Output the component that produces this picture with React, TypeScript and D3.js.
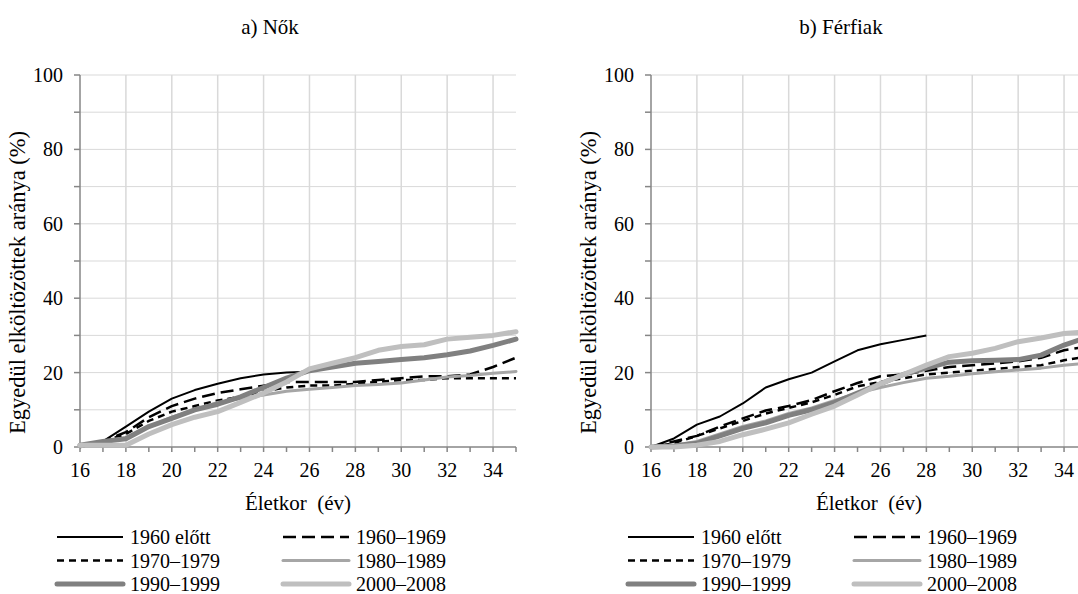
import React from "react";
import * as d3 from "d3";

const ages = [16, 17, 18, 19, 20, 21, 22, 23, 24, 25, 26, 27, 28, 29, 30, 31, 32, 33, 34, 35];
const xTicks = [16, 18, 20, 22, 24, 26, 28, 30, 32, 34];
const yTicks = [0, 20, 40, 60, 80, 100];
const yMinor = [0, 10, 20, 30, 40, 50, 60, 70, 80, 90, 100];
const seriesNames = ["1960 előtt", "1960–1969", "1970–1979", "1980–1989", "1990–1999", "2000–2008"];

// a) Nők
const w1960pre = [0, 1.5, 5.5, 9.5, 13, 15.3, 17, 18.5, 19.5, 20, 20.2];
const w1960s = [0, 1.5, 4, 8, 11, 13, 14.5, 15.5, 16.5, 17.5, 17.5, 17.5, 17.5, 18, 18.5, 19, 19, 19.5, 21.5, 24];
const w1970s = [0, 1.5, 3.5, 7, 9.5, 11, 12.5, 13.5, 15, 16, 16.5, 16.5, 17, 17.5, 18, 18, 18.5, 18.5, 18.5, 18.5];
const w1980s = [0, 1.5, 2.5, 5.5, 8, 10, 12, 13, 14, 15, 15.5, 16, 16.5, 16.8, 17.2, 18, 18.8, 19.2, 19.8, 20.3];
const w1990s = [0.5, 1.5, 2.2, 5.5, 7.7, 10, 11.5, 13.5, 16, 18.5, 20.5, 21.5, 22.5, 23, 23.5, 24, 24.8, 25.8, 27.3, 29];
const w2000s = [0.5, 0.5, 0.5, 3.5, 6, 8, 9.5, 12, 14.5, 17.5, 21, 22.5, 24, 26, 27, 27.5, 29, 29.5, 30, 31];

// b) Férfiak
const m1960pre = [0, 2.3, 6, 8.2, 11.7, 16, 18.2, 20, 23, 26, 27.6, 28.8, 30];
const m1960s = [0, 1.5, 3, 5.5, 7.7, 9.8, 11, 12.6, 15, 17.2, 19, 19.5, 20.5, 21.5, 22, 22.5, 23, 24, 26, 27];
const m1970s = [0, 1, 3, 5, 7, 9, 10.5, 12, 14, 16.3, 17.5, 18.5, 19.5, 20, 20.5, 21, 21.5, 22, 23.3, 24.3];
const m1980s = [0, 0.5, 1.5, 3.5, 5.5, 7, 9, 10.5, 12.5, 14.5, 16, 17.3, 18.5, 19, 19.7, 20.2, 20.7, 21.2, 22, 22.5];
const m1990s = [0, 0.3, 1, 3, 5, 6.5, 8.5, 10, 12, 14.5, 17, 19.5, 21.2, 22.8, 23.2, 23.3, 23.5, 24.7, 27.4, 29.5];
const m2000s = [0, 0, 0.5, 1.5, 3.3, 4.8, 6.5, 8.8, 11, 14, 17, 19.5, 22, 24.3, 25.2, 26.5, 28.3, 29.3, 30.5, 31];

const styles = [
  { stroke: "#000000", width: 2, dash: "", cap: "butt" },
  { stroke: "#000000", width: 2.5, dash: "13,6", cap: "butt" },
  { stroke: "#000000", width: 2.5, dash: "7,5", cap: "butt" },
  { stroke: "#a6a6a6", width: 3, dash: "", cap: "round" },
  { stroke: "#808080", width: 5, dash: "", cap: "round" },
  { stroke: "#bfbfbf", width: 5, dash: "", cap: "round" },
];

const TS: React.CSSProperties = { fontFamily: "Liberation Serif" };

function Panel({ ox, title, data }: { ox: number; title: string; data: number[][] }) {
  const x = d3.scaleLinear().domain([16, 35]).range([ox, ox + 436]);
  const y = d3.scaleLinear().domain([0, 100]).range([447, 75]);
  const line = d3
    .line<number>()
    .x((_, i) => x(ages[i]))
    .y((d) => y(d));
  const axisColor = "#868686";
  const cx = (x(16) + x(35)) / 2;
  return (
    <g>
      <text x={cx - 28} y={34} fontSize={21} textAnchor="middle" style={TS}>
        {title}
      </text>
      {yMinor.slice(1).map((v) => (
        <line key={"gy" + v} x1={x(16)} x2={x(35)} y1={y(v)} y2={y(v)} stroke="#d9d9d9" strokeWidth={1} />
      ))}
      {xTicks.slice(1).map((v) => (
        <line key={"gx" + v} x1={x(v)} x2={x(v)} y1={y(0)} y2={y(100)} stroke="#d9d9d9" strokeWidth={1.5} />
      ))}
      <line x1={x(16)} x2={x(16)} y1={y(0)} y2={y(100)} stroke={axisColor} strokeWidth={1.5} />
      <line x1={x(16)} x2={x(35)} y1={y(0)} y2={y(0)} stroke={axisColor} strokeWidth={1.5} />
      {yMinor.map((v) => (
        <line key={"ty" + v} x1={x(16) - 6} x2={x(16)} y1={y(v)} y2={y(v)} stroke={axisColor} strokeWidth={1.5} />
      ))}
      {ages.map((v) => (
        <line key={"tx" + v} x1={x(v)} x2={x(v)} y1={y(0)} y2={y(0) + 5} stroke={axisColor} strokeWidth={1.5} />
      ))}
      {yTicks.map((v) => (
        <text key={"ly" + v} x={x(16) - 17} y={y(v)} dy="0.35em" fontSize={20} textAnchor="end" style={TS}>
          {v}
        </text>
      ))}
      {xTicks.map((v) => (
        <text key={"lx" + v} x={x(v)} y={477} fontSize={20} textAnchor="middle" style={TS}>
          {v}
        </text>
      ))}
      <text x={cx} y={510} fontSize={21} textAnchor="middle" style={{ ...TS, whiteSpace: "pre" }}>
        {"Életkor  (év)"}
      </text>
      <text transform={`translate(${ox - 55},${282.5}) rotate(-90)`} fontSize={22.5} textAnchor="middle" style={TS}>
        Egyedül elköltözöttek aránya (%)
      </text>
      {data.map((s, i) => (
        <path
          key={"s" + i}
          d={line(s) || ""}
          fill="none"
          stroke={styles[i].stroke}
          strokeWidth={styles[i].width}
          strokeDasharray={styles[i].dash || undefined}
          strokeLinejoin="round"
          strokeLinecap={styles[i].cap as any}
        />
      ))}
      {seriesNames.map((n, i) => {
        const col = i % 2;
        const row = Math.floor(i / 2);
        const lx = ox - 23 + col * 226;
        const ly = 537 + row * 23.5;
        return (
          <g key={"lg" + i}>
            <line
              x1={lx}
              x2={lx + 66}
              y1={ly}
              y2={ly}
              stroke={styles[i].stroke}
              strokeWidth={styles[i].width}
              strokeDasharray={styles[i].dash || undefined}
              strokeLinecap={styles[i].cap as any}
            />
            <text x={lx + 73} y={ly + 7} fontSize={20} style={TS}>
              {n}
            </text>
          </g>
        );
      })}
    </g>
  );
}

export default function App() {
  return (
    <svg width={1078} height={594} style={{ position: "absolute", left: 0, top: 0, background: "#ffffff" }}>
      <rect x={0} y={0} width={1078} height={594} fill="#ffffff" />
      <Panel ox={80} title="a) Nők" data={[w1960pre, w1960s, w1970s, w1980s, w1990s, w2000s]} />
      <Panel ox={651} title="b) Férfiak" data={[m1960pre, m1960s, m1970s, m1980s, m1990s, m2000s]} />
    </svg>
  );
}
